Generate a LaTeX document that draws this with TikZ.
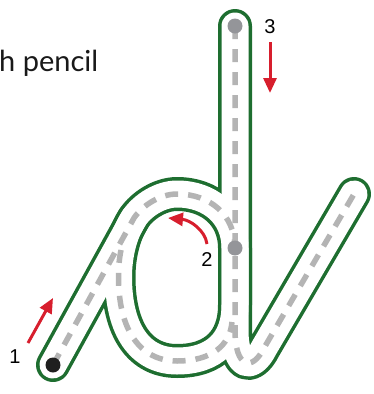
\documentclass[tikz,border=0pt]{standalone}
\usepackage{fontspec}
\setmainfont{Liberation Sans}
\newfontfamily\hintfont{Lato}
\usetikzlibrary{arrows.meta}
\definecolor{trackgreen}{RGB}{30,110,48}
\definecolor{dashgray}{RGB}{180,180,180}
\definecolor{dotgray}{RGB}{148,149,153}
\definecolor{arrowred}{RGB}{215,30,45}
\begin{document}
\begin{tikzpicture}[x=1pt, y=-1pt,
  edge/.style={line width=34pt, trackgreen, line cap=round, line join=round},
  inner/.style={line width=27pt, white, line cap=round, line join=round},
  guide/.style={line width=5.5pt, dashgray, dash pattern=on 13pt off 10pt},
  dot/.style={circle, minimum size=15pt, inner sep=0pt},
  dir/.style={line width=3pt, arrowred, -{Triangle[length=15pt,width=13pt]}},
  lbl/.style={font=\fontsize{20}{24}\selectfont, inner sep=0pt}]
  \useasboundingbox (0,0) rectangle (374,394);
  % 글자 중심선
  \coordinate (start) at (53,365);
  \coordinate (top) at (235,26);
  \coordinate (join) at (235,248);
  \coordinate (tan) at (134,218);
  \coordinate (lt) at (177,194);
  \coordinate (lf) at (118.5,277);
  \coordinate (lb) at (177,361);
  \coordinate (lr) at (235,305);
  \coordinate (sb) at (235,330);
  \coordinate (tb) at (264,348);
  \coordinate (tend) at (354,194);
  % 초록 테두리, 그 위에 흰 띠
  \foreach \s in {edge,inner}{
    \draw[\s] (start) -- (tan);
    \draw[\s] (join) .. controls (235,215) and (210,194) .. (lt)
      .. controls (160,194) and (142.4,205.5) .. (tan)
      .. controls (124,233) and (118.5,255) .. (lf)
      .. controls (118.5,330) and (140,361) .. (lb)
      .. controls (215,361) and (235,340) .. (lr) -- cycle;
    \draw[\s] (top) -- (sb) .. controls (235,368) and (252,372) .. (tb) -- (tend);
  }
  % 점선 안내선
  \draw[guide] (start) -- (tan) .. controls (142.4,205.5) and (160,194) .. (lt)
    .. controls (210,194) and (235,215) .. (join);
  \draw[guide] (121,250) .. controls (119,260) and (118.5,268) .. (lf)
    .. controls (118.5,330) and (140,361) .. (lb)
    .. controls (212,361) and (230,345) .. (232,322);
  \draw[guide] (top) -- (sb) .. controls (235,368) and (252,372) .. (tb) -- (tend);
  % 시작점
  \node[dot, fill=black!88] (d1) at (start) {};
  \node[dot, fill=dotgray] (d2) at (join) {};
  \node[dot, fill=dotgray] (d3) at (top) {};
  % 방향 화살표
  \coordinate (a1s) at (28,343); \coordinate (a1e) at (53,298);
  \coordinate (a2s) at (207,244); \coordinate (a2e) at (168,218);
  \coordinate (a3s) at (270,42); \coordinate (a3e) at (270,93);
  \draw[dir] (a1s) -- (a1e);
  \draw[dir] (a2s) .. controls (205,230) and (190,220) .. (a2e);
  \draw[dir] (a3s) -- (a3e);
  \node[lbl] (n1) at (15,357) {1};
  \node[lbl] (n2) at (207,260) {2};
  \node[lbl] (n3) at (270,27) {3};
  \node[font=\hintfont\fontsize{29}{32}\selectfont, anchor=base west, inner sep=0pt,
    text=black!90] (hint) at (-1,71) {h pencil};
\end{tikzpicture}
\end{document}
